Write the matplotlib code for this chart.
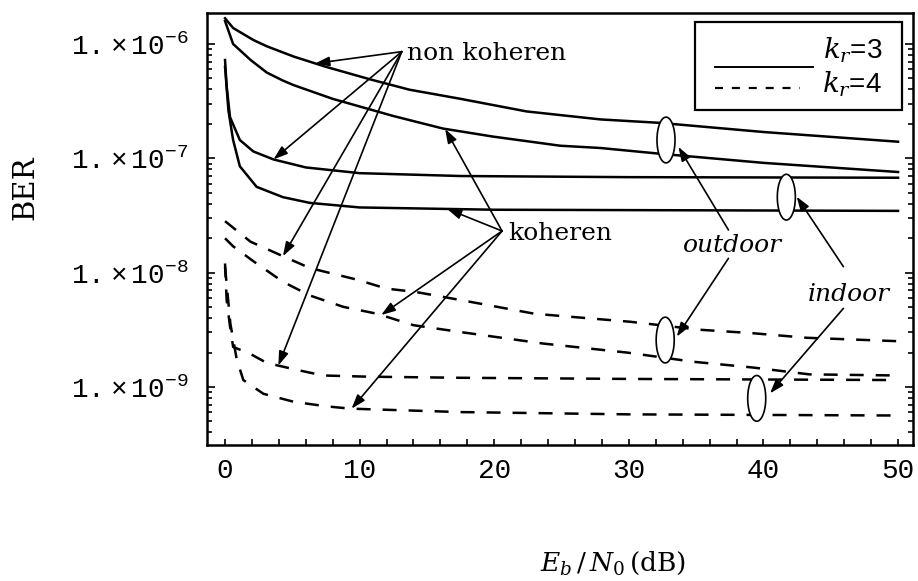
import numpy as np
import matplotlib
matplotlib.use('Agg')
import matplotlib.pyplot as plt
from matplotlib.ticker import LogLocator, MultipleLocator, NullFormatter
from matplotlib.patches import Rectangle

# BER curves, stored as log10(BER)
# k_r = 3 (solid)
x_nc_out3 = [0, 0.6, 2.1, 3.1, 5.1, 7.5, 10.8, 13.7, 17.5, 22.4, 27.9, 32.3, 40, 50]
lg_nc_out3 = [-5.775, -5.86, -5.965, -6.02, -6.11, -6.20, -6.31, -6.40, -6.48, -6.59, -6.66, -6.69, -6.77, -6.855]

x_c_out3 = [0, 0.6, 1.9, 3.1, 4.3, 5.1, 8.0, 12.5, 16.2, 19.9, 24.9, 27.9, 32.3, 40, 50]
lg_c_out3 = [-5.80, -6.00, -6.14, -6.25, -6.32, -6.36, -6.48, -6.63, -6.74, -6.81, -6.89, -6.91, -6.96, -7.04, -7.12]

x_nc_in3 = [0, 0.12, 0.37, 1.1, 2.1, 3.6, 6.0, 10.0, 17.5, 30, 50]
lg_nc_in3 = [-6.14, -6.37, -6.64, -6.84, -6.94, -7.01, -7.08, -7.13, -7.155, -7.165, -7.17]

x_c_in3 = [0, 0.25, 0.6, 1.1, 2.35, 4.3, 6.3, 10, 20, 50]
lg_c_in3 = [-6.20, -6.58, -6.84, -7.07, -7.25, -7.34, -7.39, -7.43, -7.45, -7.46]

# k_r = 4 (dashed)
x_nc_out4 = [0, 1.9, 3.8, 6.3, 9.75, 12.0, 14.2, 17.5, 23, 30.1, 35.3, 39.2, 43.2, 50]
lg_nc_out4 = [-7.55, -7.73, -7.83, -7.96, -8.06, -8.14, -8.17, -8.24, -8.36, -8.43, -8.50, -8.53, -8.57, -8.60]

x_c_out4 = [0, 0.6, 2.1, 4.3, 6.3, 8.8, 11.3, 14.0, 17.5, 23.6, 29.9, 34.8, 39.2, 43.4, 50]
lg_c_out4 = [-7.70, -7.77, -7.90, -8.08, -8.20, -8.30, -8.36, -8.46, -8.52, -8.62, -8.70, -8.78, -8.83, -8.89, -8.90]

x_nc_in4 = [0, 0.12, 0.37, 0.6, 1.86, 3.1, 5.3, 7.3, 10.5, 17.5, 30, 50]
lg_nc_in4 = [-7.92, -8.24, -8.47, -8.65, -8.71, -8.79, -8.85, -8.90, -8.91, -8.92, -8.93, -8.94]

x_c_in4 = [0, 0.4, 0.87, 1.36, 2.85, 5.1, 7.55, 9.3, 17.5, 30, 50]
lg_c_in4 = [-7.95, -8.45, -8.76, -8.94, -9.06, -9.13, -9.17, -9.19, -9.22, -9.24, -9.25]

# axis ticks
xticks = [0, 10, 20, 30, 40, 50]
yticks = [1e-9, 1e-8, 1e-7, 1e-6]
ytick_labels = [r'$1.\times10^{-9}$', r'$1.\times10^{-8}$', r'$1.\times10^{-7}$', r'$1.\times10^{-6}$']

# annotation anchors (x, log10 BER)
noncoh_tail = (13.13, -6.067)
noncoh_targets = [(x_nc_out3, lg_nc_out3, 6.7), (x_nc_in3, lg_nc_in3, 3.6),
                  (x_nc_out4, lg_nc_out4, 4.3), (x_nc_in4, lg_nc_in4, 3.96)]
coh_tail = (20.58, -7.636)
coh_targets = [(x_c_out3, lg_c_out3, 16.35), (x_c_in3, lg_c_in3, 16.5),
               (x_c_out4, lg_c_out4, 11.6), (x_c_in4, lg_c_in4, 9.4)]

ell_x = [32.76, 41.7, 32.7, 39.5]
ell_lg = [-6.84, -7.34, -8.59, -9.10]

outdoor_tails = [(37.4, -7.627), (37.4, -7.875)]
outdoor_tips = [(33.68, -6.90), (33.56, -8.56)]
indoor_tails = [(45.94, -7.948), (45.94, -8.313)]
indoor_tips = [(42.47, -7.336), (40.49, -9.056)]

plt.rcParams['mathtext.fontset'] = 'custom'
plt.rcParams['mathtext.rm'] = 'Liberation Mono'
plt.rcParams['mathtext.it'] = 'Liberation Mono:italic'
plt.rcParams['mathtext.bf'] = 'Liberation Mono:bold'

fig = plt.figure(figsize=(9.18, 5.81), dpi=100)
ax = fig.add_axes([207 / 918, 1 - 445 / 581, 706 / 918, 432 / 581])
ax.set_yscale('log')

LW = 1.8
DASH = (5.6, 4.8)
solid = [(x_nc_out3, lg_nc_out3), (x_c_out3, lg_c_out3), (x_nc_in3, lg_nc_in3), (x_c_in3, lg_c_in3)]
dashed = [(x_nc_out4, lg_nc_out4), (x_c_out4, lg_c_out4), (x_nc_in4, lg_nc_in4), (x_c_in4, lg_c_in4)]
for x, lg in solid:
    ax.plot(x, 10 ** np.array(lg), color='k', lw=LW)
for x, lg in dashed:
    ax.plot(x, 10 ** np.array(lg), color='k', lw=LW, dashes=DASH)

ax.set_xlim(-1.34, 51.11)
ax.set_ylim(10 ** -9.508, 10 ** -5.729)

# small ovals grouping the curve pairs
t = np.linspace(0, 2 * np.pi, 120)
for cx, cy in zip(ell_x, ell_lg):
    ex = cx + 0.67 * np.cos(t)
    ey = 10 ** (cy + 0.2 * np.sin(t))
    ax.fill(ex, ey, facecolor='white', edgecolor='k', lw=1.2, zorder=3)

arrow_kw = dict(arrowstyle='-|>,head_length=0.5,head_width=0.17', color='k', lw=1.2,
                mutation_scale=17, shrinkA=0, shrinkB=0)

def arrow(tail, tip):
    ax.annotate('', xy=(tip[0], 10 ** tip[1]), xytext=(tail[0], 10 ** tail[1]),
                arrowprops=arrow_kw, zorder=4)

for cx, clg, xt in noncoh_targets:
    arrow(noncoh_tail, (xt, np.interp(xt, cx, clg)))
for cx, clg, xt in coh_targets:
    arrow(coh_tail, (xt, np.interp(xt, cx, clg)))
for tail, tip in zip(outdoor_tails, outdoor_tips):
    arrow(tail, tip)
for tail, tip in zip(indoor_tails, indoor_tips):
    arrow(tail, tip)

serif = 'DejaVu Serif'
ax.text(13.52, 10 ** -6.14, 'non koheren', family=serif, fontsize=18, va='baseline')
ax.text(21.03, 10 ** -7.715, 'koheren', family=serif, fontsize=18, va='baseline')
ax.text(37.67, 10 ** -7.82, 'outdoor', family=serif, style='italic', fontsize=18, ha='center', va='baseline')
ax.text(46.36, 10 ** -8.25, 'indoor', family=serif, style='italic', fontsize=18, ha='center', va='baseline')

# legend box
ax.add_patch(Rectangle((0.691, 0.775), 0.293, 0.205, transform=ax.transAxes,
                       fill=False, edgecolor='k', lw=1.6, zorder=5))
ax.plot([0.7195, 0.858], [0.876, 0.876], transform=ax.transAxes, color='k', lw=1.4)
ax.plot([0.7195, 0.840], [0.826, 0.826], transform=ax.transAxes, color='k', lw=1.6, dashes=(3.6, 4.0))
for ytxt, lab in [(0.914, '$k_r$=3'), (0.834, '$k_r$=4')]:
    ax.text(0.956, ytxt, lab, transform=ax.transAxes, family='Liberation Sans', fontsize=20,
            ha='right', va='center', math_fontfamily='dejavuserif')

# axes styling
ax.set_xticks(xticks)
ax.set_xticklabels([str(v) for v in xticks], family='Liberation Mono', fontsize=20)
ax.xaxis.set_minor_locator(MultipleLocator(2))
ax.set_yticks(yticks)
ax.set_yticklabels(ytick_labels, fontsize=20)
ax.yaxis.set_minor_locator(LogLocator(base=10, subs=np.arange(2, 10)))
ax.yaxis.set_minor_formatter(NullFormatter())
ax.tick_params(which='both', direction='in', top=False, right=True, width=1.2)
ax.tick_params(axis='y', which='major', length=6, pad=13.5)
ax.tick_params(axis='y', which='minor', length=3.5)
ax.tick_params(axis='x', which='both', length=4, pad=9)
for s in ax.spines.values():
    s.set_linewidth(1.8)

fig.text(25 / 918, 1 - 188 / 581, 'BER', family=serif, fontsize=21, rotation=90, ha='center', va='center')
fig.text(613 / 918, 1 - 563 / 581, r'$E_b\,/\,N_0\,$(dB)', family=serif, fontsize=19,
         ha='center', va='center', math_fontfamily='dejavuserif')

fig.savefig('out.png', dpi=100)
